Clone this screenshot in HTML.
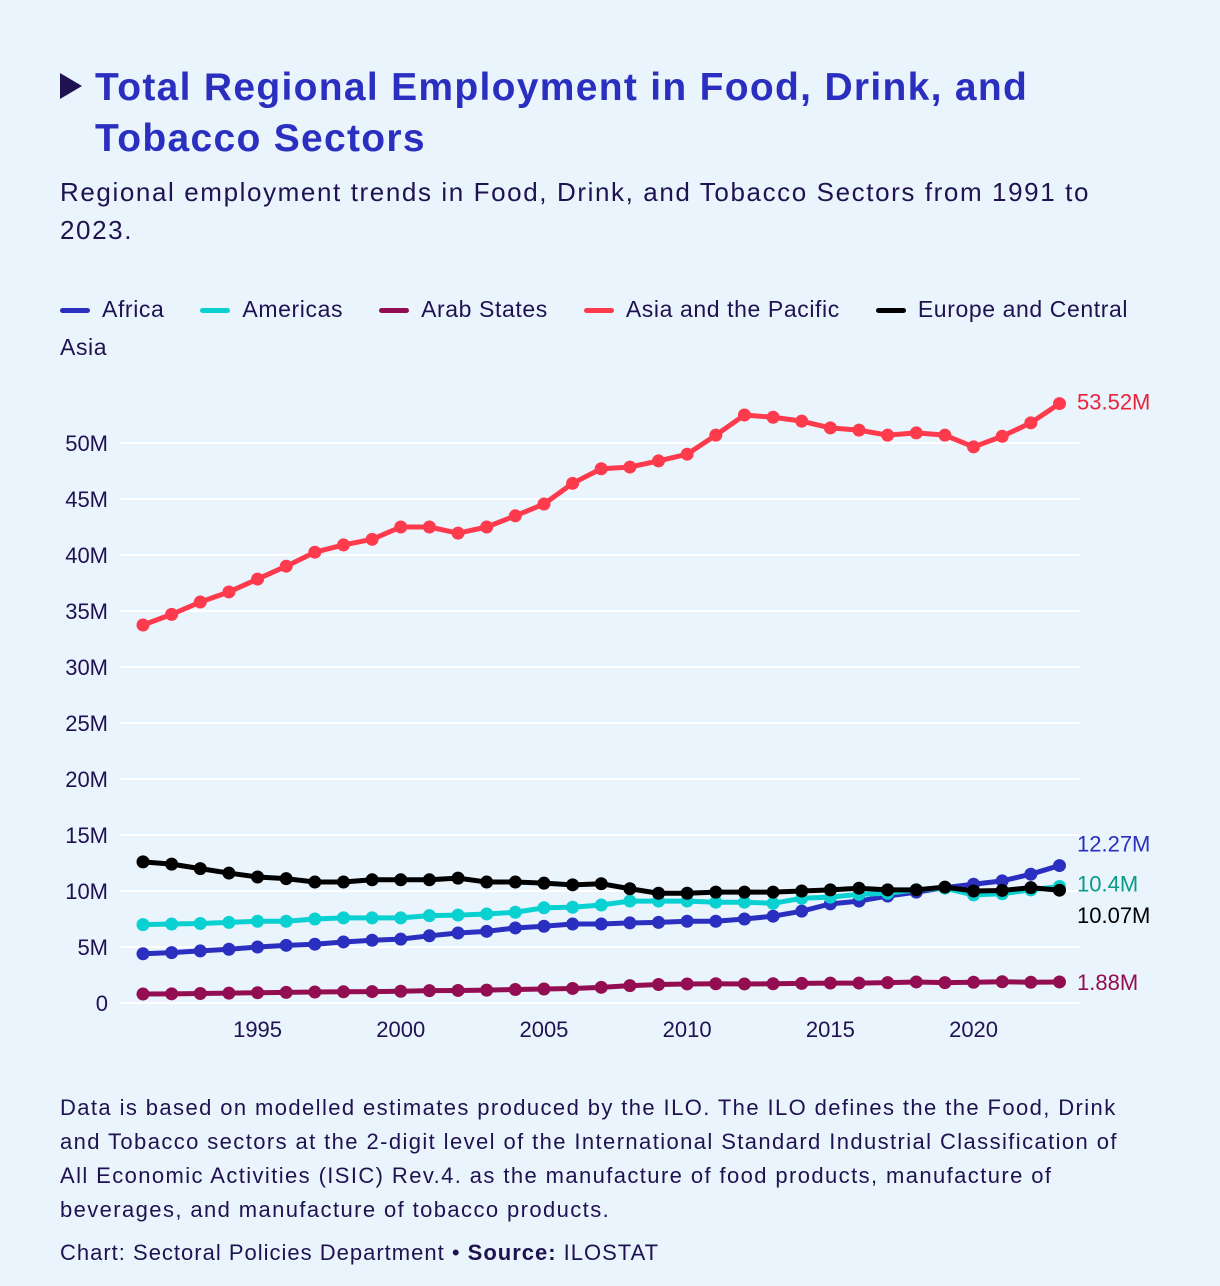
<!DOCTYPE html>
<html><head><meta charset="utf-8"><style>
body{margin:0;background:#eaf4fd;font-family:"Liberation Sans",sans-serif;color:#1e1250;}
#wrap{position:relative;width:1220px;height:1286px;overflow:hidden;background:#eaf4fd;}
.t{position:absolute;white-space:nowrap;}
</style></head><body>
<div id="wrap">
<div class="t" style="left:60px;top:73px;width:0;height:0;border-top:13px solid transparent;border-bottom:13px solid transparent;border-left:22px solid #1e1250;"></div>
<div class="t" style="left:95px;top:62px;font-size:39px;font-weight:bold;color:#2a2fbf;line-height:51px;letter-spacing:1.3px;">Total Regional Employment in Food, Drink, and<br>Tobacco Sectors</div>
<div class="t" style="left:60px;top:173px;font-size:26px;line-height:38px;letter-spacing:1.6px;">Regional employment trends in Food, Drink, and Tobacco Sectors from 1991 to<br>2023.</div>
<div class="t" style="left:60px;top:290px;font-size:23px;line-height:38px;letter-spacing:0.6px;">
<span><span style="display:inline-block;width:30px;height:5px;border-radius:3px;background:#2a2fbf;vertical-align:middle;margin-right:12px"></span>Africa</span><span style="display:inline-block;width:36px"></span><span><span style="display:inline-block;width:30px;height:5px;border-radius:3px;background:#0ad1d1;vertical-align:middle;margin-right:12px"></span>Americas</span><span style="display:inline-block;width:36px"></span><span><span style="display:inline-block;width:30px;height:5px;border-radius:3px;background:#930d52;vertical-align:middle;margin-right:12px"></span>Arab States</span><span style="display:inline-block;width:36px"></span><span><span style="display:inline-block;width:30px;height:5px;border-radius:3px;background:#fd3b4c;vertical-align:middle;margin-right:12px"></span>Asia and the Pacific</span><span style="display:inline-block;width:36px"></span><span><span style="display:inline-block;width:30px;height:5px;border-radius:3px;background:#000;vertical-align:middle;margin-right:12px"></span>Europe and Central<br>Asia</span>
</div>
<svg class="t" id="chart" style="left:0;top:0" width="1220" height="1286"></svg>
<div class="t" style="left:60px;top:1091px;font-size:22px;line-height:34px;letter-spacing:1.4px;">Data is based on modelled estimates produced by the ILO. The ILO defines the the Food, Drink<br>and Tobacco sectors at the 2-digit level of the International Standard Industrial Classification of<br>All Economic Activities (ISIC) Rev.4. as the manufacture of food products, manufacture of<br>beverages, and manufacture of tobacco products.</div>
<div class="t" style="left:60px;top:1236px;font-size:22px;line-height:34px;letter-spacing:1.0px;">Chart: Sectoral Policies Department • <b>Source:</b> ILOSTAT</div>
</div>
<script>
const years=[];for(let y=1991;y<=2023;y++)years.push(y);
const africa=[4.4,4.5,4.65,4.8,5.0,5.15,5.25,5.45,5.6,5.7,6.0,6.25,6.4,6.7,6.85,7.05,7.05,7.15,7.2,7.3,7.3,7.5,7.75,8.2,8.85,9.1,9.55,9.9,10.3,10.6,10.9,11.5,12.27];
const americas=[7.0,7.05,7.1,7.2,7.3,7.3,7.5,7.6,7.6,7.6,7.8,7.85,7.95,8.1,8.5,8.55,8.75,9.1,9.1,9.1,9.0,9.0,8.9,9.35,9.45,9.7,9.8,10.1,10.25,9.65,9.75,10.1,10.4];
const arab=[0.8,0.82,0.85,0.88,0.92,0.95,0.98,1.0,1.02,1.05,1.1,1.12,1.15,1.2,1.25,1.3,1.4,1.55,1.65,1.7,1.72,1.7,1.72,1.75,1.78,1.78,1.82,1.88,1.82,1.85,1.9,1.85,1.88];
const asia=[33.75,34.7,35.8,36.7,37.85,39.0,40.25,40.9,41.4,42.5,42.5,41.95,42.5,43.5,44.55,46.4,47.7,47.85,48.4,49.0,50.7,52.5,52.3,51.95,51.35,51.15,50.7,50.9,50.7,49.65,50.6,51.8,53.52];
const europe=[12.6,12.4,12.0,11.6,11.25,11.1,10.8,10.8,11.0,11.0,11.0,11.15,10.8,10.8,10.7,10.55,10.65,10.2,9.8,9.8,9.9,9.9,9.9,10.0,10.1,10.25,10.1,10.1,10.35,10.0,10.05,10.3,10.07];
const yTicks=[0,5,10,15,20,25,30,35,40,45,50];
const xTicks=[1995,2000,2005,2010,2015,2020];
const NS='http://www.w3.org/2000/svg',svg=document.getElementById('chart');
const X=y=>143+(y-1991)*28.64, Y=v=>1003-v*11.2;
function mk(t,a){const e=document.createElementNS(NS,t);for(const k in a)e.setAttribute(k,a[k]);svg.appendChild(e);return e;}
yTicks.forEach(v=>{
 const g=mk('line',{x1:120,x2:1080,y1:Y(v),y2:Y(v),stroke:'#fff','stroke-width':2});
 
 
 const t=mk('text',{x:108,y:Y(v)+8,'text-anchor':'end','font-size':22,fill:'#1e1250','font-family':'Liberation Sans, sans-serif'});
 t.textContent=v===0?'0':v+'M';
 
 
});
xTicks.forEach(y=>{
 const t=mk('text',{x:X(y),y:1037,'text-anchor':'middle','font-size':22,fill:'#1e1250','font-family':'Liberation Sans, sans-serif'});
 t.textContent=y;
 
 
});
const series=[['africa',africa,'#2a2fbf','#2a2fbf','12.27M',-22],['americas',americas,'#0ad1d1','#0a9a8a','10.4M',-3],['arab-states',arab,'#930d52','#930d52','1.88M',0],['asia-pacific',asia,'#fd3b4c','#e8243a','53.52M',-2],['europe-central-asia',europe,'#000','#000','10.07M',25]];
series.forEach(([n,d,c,lc,lab,dy])=>{
 const p=mk('polyline',{points:d.map((v,i)=>X(years[i])+','+Y(v)).join(' '),fill:'none',stroke:c,'stroke-width':5,'stroke-linejoin':'round'});
 
 
 d.forEach((v,i)=>{const m=mk('circle',{cx:X(years[i]),cy:Y(v),r:6.5,fill:c});
  
  });
 const t=mk('text',{x:1077,y:Y(d[d.length-1])+8+dy,'font-size':22,fill:lc,'font-family':'Liberation Sans, sans-serif'});
 t.textContent=lab;
 
 
});
</script>
</body></html>
